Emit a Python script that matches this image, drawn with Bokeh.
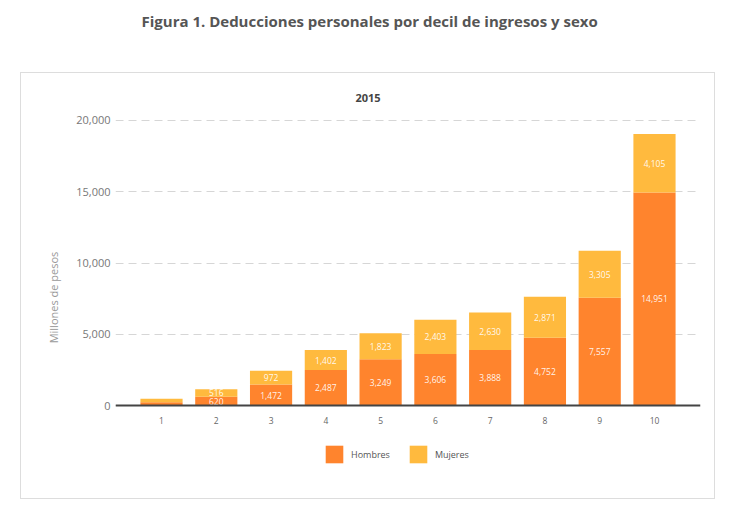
from bokeh.plotting import figure
from bokeh.models import (Range1d, FixedTicker, NumeralTickFormatter, Legend, LegendItem,
                          ColumnDataSource, Title)
from bokeh.core.properties import value
from bokeh.embed import file_html
from bokeh.resources import INLINE

deciles = [1, 2, 3, 4, 5, 6, 7, 8, 9, 10]
hombres = [230, 620, 1472, 2487, 3249, 3606, 3888, 4752, 7557, 14951]
mujeres = [240, 516, 972, 1402, 1823, 2403, 2630, 2871, 3305, 4105]
y_ticks = [0, 5000, 10000, 15000, 20000]
labeled_deciles = [2, 3, 4, 5, 6, 7, 8, 9, 10]

title_text = "Figura 1. Deducciones personales por decil de ingresos y sexo"
subtitle_text = "2015"
y_label = "Millones de pesos"

FONT = "Open Sans"
C_H = "#FF842D"
C_M = "#FFBA3E"

g = "linear-gradient(#dddddd,#dddddd)"
box_bg = (f"{g} 20px 72px / 695px 1px no-repeat, {g} 20px 498px / 695px 1px no-repeat, "
          f"{g} 20px 72px / 1px 427px no-repeat, {g} 714px 72px / 1px 427px no-repeat, white")

src = ColumnDataSource(dict(decil=deciles, Hombres=hombres, Mujeres=mujeres))

# frame extends below the zero line so the legend can sit inside it
p = figure(frame_width=585, frame_height=366, output_backend="svg", toolbar_location=None,
           x_range=Range1d(0.16, 10.84), y_range=Range1d(-5263, 20421),
           min_border_left=115, min_border_right=20, min_border_top=114, min_border_bottom=26,
           styles={"background": box_bg})
p.outline_line_color = None
p.background_fill_color = "white"
p.border_fill_color = None

# main title (outermost)
p.title.text = title_text
p.title.align = "left"
p.title.offset = 26
p.title.text_font = FONT
p.title.text_font_size = "15px"
p.title.text_font_style = "bold"
p.title.text_color = "#555555"
p.title.standoff = 0

# subtitle nearest the frame, then a blank spacer
p.add_layout(Title(text=subtitle_text, align="left", offset=240, text_font=FONT,
                   text_font_size="11px", text_font_style="bold", text_color="#444444",
                   standoff=25), "above")
p.add_layout(Title(text=" ", text_font_size="2px", standoff=45), "above")

rs = p.vbar_stack(["Hombres", "Mujeres"], x="decil", width=0.77, color=[C_H, C_M],
                  line_color=None, source=src)

# value labels
lx, ly, lt = [], [], []
for d, h, m in zip(deciles, hombres, mujeres):
    if d in labeled_deciles:
        lx += [d, d]
        ly += [h / 2, h + m / 2]
        lt += [f"{h:,}", f"{m:,}"]
p.text(x=lx, y=ly, text=lt, text_align="center", text_baseline="middle",
       text_font=value(FONT), text_font_size="8.5px", text_color="white", text_alpha=0.92)

# axes
p.yaxis.ticker = FixedTicker(ticks=y_ticks)
p.yaxis.formatter = NumeralTickFormatter(format="0,0")
p.yaxis.axis_line_color = None
p.yaxis.major_tick_line_color = None
p.yaxis.minor_tick_line_color = None
p.yaxis.major_tick_out = 0
p.yaxis.major_tick_in = 0
p.yaxis.major_label_text_font = FONT
p.yaxis.major_label_text_font_size = "11px"
p.yaxis.major_label_text_color = "#777777"
p.yaxis.major_label_standoff = 5
p.yaxis.axis_label = y_label
p.yaxis.axis_label_text_font = FONT
p.yaxis.axis_label_text_font_style = "normal"
p.yaxis.axis_label_text_font_size = "11px"
p.yaxis.axis_label_text_color = "#999999"
p.yaxis.axis_label_standoff = 12

p.xaxis.fixed_location = 0
p.xaxis.ticker = FixedTicker(ticks=deciles)
p.xaxis.axis_line_color = "#444444"
p.xaxis.axis_line_width = 2
p.xaxis.major_tick_line_color = None
p.xaxis.minor_tick_line_color = None
p.xaxis.major_tick_out = 0
p.xaxis.major_tick_in = 0
p.xaxis.major_label_text_font = FONT
p.xaxis.major_label_text_font_size = "8.5px"
p.xaxis.major_label_text_color = "#666666"
p.xaxis.major_label_standoff = 11

p.xgrid.grid_line_color = None
p.ygrid.grid_line_color = "#d6d6d6"
p.ygrid.grid_line_dash = "8 5"
p.ygrid.grid_line_width = 1

legend = Legend(items=[LegendItem(label="Hombres", renderers=[rs[0]]),
                       LegendItem(label="Mujeres", renderers=[rs[1]])],
                location=(208, 15), orientation="horizontal",
                glyph_width=22, glyph_height=22, label_height=22, label_width=38,
                label_standoff=6, spacing=17, padding=0, margin=0,
                border_line_color=None, background_fill_alpha=0,
                label_text_font=FONT, label_text_font_size="9px",
                label_text_color="#555555")
p.add_layout(legend)

open("out.html", "w").write(file_html(p, INLINE))
